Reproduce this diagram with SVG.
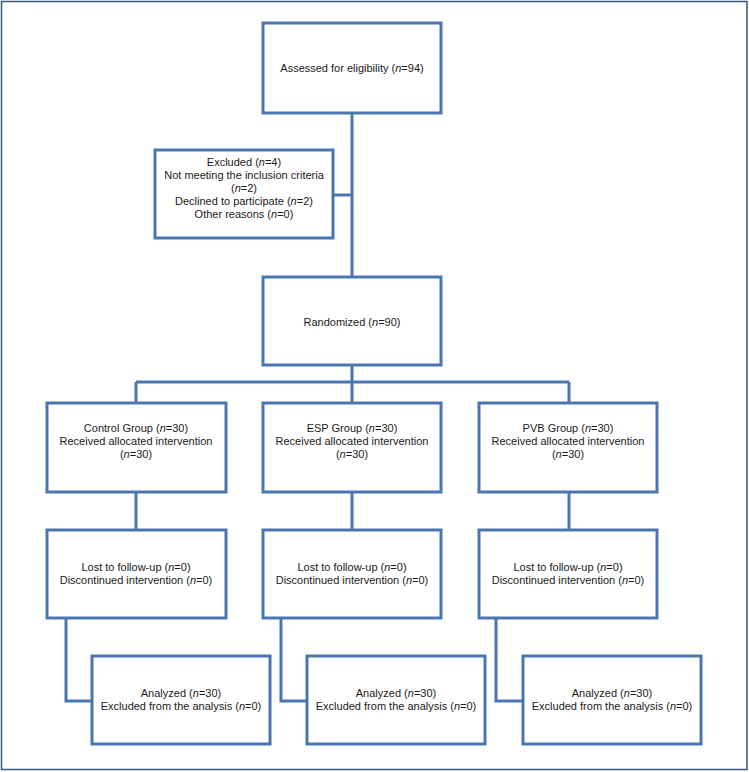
<svg xmlns="http://www.w3.org/2000/svg" width="749" height="772" viewBox="0 0 749 772">
<style>
.box{fill:#fff;stroke:#4a76b0;stroke-width:3}
.ln{fill:none;stroke:#4a76b0;stroke-width:3}
text{font-family:"Liberation Sans",Arial,sans-serif;font-size:11px;fill:#1a1a1a;text-anchor:middle}
</style>
<rect x="1.5" y="1.5" width="745.5" height="768" fill="#fff" stroke="#35597f" stroke-width="1.5"/>
<g id="connectors">
<path class="ln" d="M352 113V277M333 195H352"/>
<path class="ln" d="M352 365V382M136 382H569M136 382V403M352 382V403M569 382V403"/>
<path class="ln" d="M136 492V530M352 492V530M569 492V530"/>
<path class="ln" d="M66 618V701H92M281 618V701H307M496 618V701H523"/>
</g>
<g id="assessed"><rect class="box" x="263" y="23" width="178" height="90"/><text x="352" y="72">Assessed for eligibility (<tspan font-style="italic">n</tspan>=94)</text></g>
<g id="excluded"><rect class="box" x="155" y="150" width="178" height="88"/>
<text x="244" y="166">Excluded (<tspan font-style="italic">n</tspan>=4)</text>
<text x="244" y="179">Not meeting the inclusion criteria</text>
<text x="244" y="192">(<tspan font-style="italic">n</tspan>=2)</text>
<text x="244" y="205">Declined to participate (<tspan font-style="italic">n</tspan>=2)</text>
<text x="244" y="218">Other reasons (<tspan font-style="italic">n</tspan>=0)</text></g>
<g id="randomized"><rect class="box" x="263" y="277" width="178" height="88"/><text x="352" y="326">Randomized (<tspan font-style="italic">n</tspan>=90)</text></g>
<g id="control"><rect class="box" x="47" y="403" width="179" height="89"/>
<text x="136" y="432">Control Group (<tspan font-style="italic">n</tspan>=30)</text>
<text x="136" y="445">Received allocated intervention</text>
<text x="136" y="458">(<tspan font-style="italic">n</tspan>=30)</text></g>
<g id="esp"><rect class="box" x="263" y="403" width="178" height="89"/>
<text x="352" y="432">ESP Group (<tspan font-style="italic">n</tspan>=30)</text>
<text x="352" y="445">Received allocated intervention</text>
<text x="352" y="458">(<tspan font-style="italic">n</tspan>=30)</text></g>
<g id="pvb"><rect class="box" x="479" y="403" width="178" height="89"/>
<text x="568" y="432">PVB Group (<tspan font-style="italic">n</tspan>=30)</text>
<text x="568" y="445">Received allocated intervention</text>
<text x="568" y="458">(<tspan font-style="italic">n</tspan>=30)</text></g>
<g id="lost1"><rect class="box" x="47" y="530" width="179" height="88"/>
<text x="136" y="571">Lost to follow-up (<tspan font-style="italic">n</tspan>=0)</text>
<text x="136" y="584">Discontinued intervention (<tspan font-style="italic">n</tspan>=0)</text></g>
<g id="lost2"><rect class="box" x="263" y="530" width="178" height="88"/>
<text x="352" y="571">Lost to follow-up (<tspan font-style="italic">n</tspan>=0)</text>
<text x="352" y="584">Discontinued intervention (<tspan font-style="italic">n</tspan>=0)</text></g>
<g id="lost3"><rect class="box" x="479" y="530" width="178" height="88"/>
<text x="568" y="571">Lost to follow-up (<tspan font-style="italic">n</tspan>=0)</text>
<text x="568" y="584">Discontinued intervention (<tspan font-style="italic">n</tspan>=0)</text></g>
<g id="analyzed1"><rect class="box" x="92" y="656" width="178" height="88"/>
<text x="181" y="697">Analyzed (<tspan font-style="italic">n</tspan>=30)</text>
<text x="181" y="710">Excluded from the analysis (<tspan font-style="italic">n</tspan>=0)</text></g>
<g id="analyzed2"><rect class="box" x="307" y="656" width="178" height="88"/>
<text x="396" y="697">Analyzed (<tspan font-style="italic">n</tspan>=30)</text>
<text x="396" y="710">Excluded from the analysis (<tspan font-style="italic">n</tspan>=0)</text></g>
<g id="analyzed3"><rect class="box" x="523" y="656" width="178" height="88"/>
<text x="612" y="697">Analyzed (<tspan font-style="italic">n</tspan>=30)</text>
<text x="612" y="710">Excluded from the analysis (<tspan font-style="italic">n</tspan>=0)</text></g>
</svg>
